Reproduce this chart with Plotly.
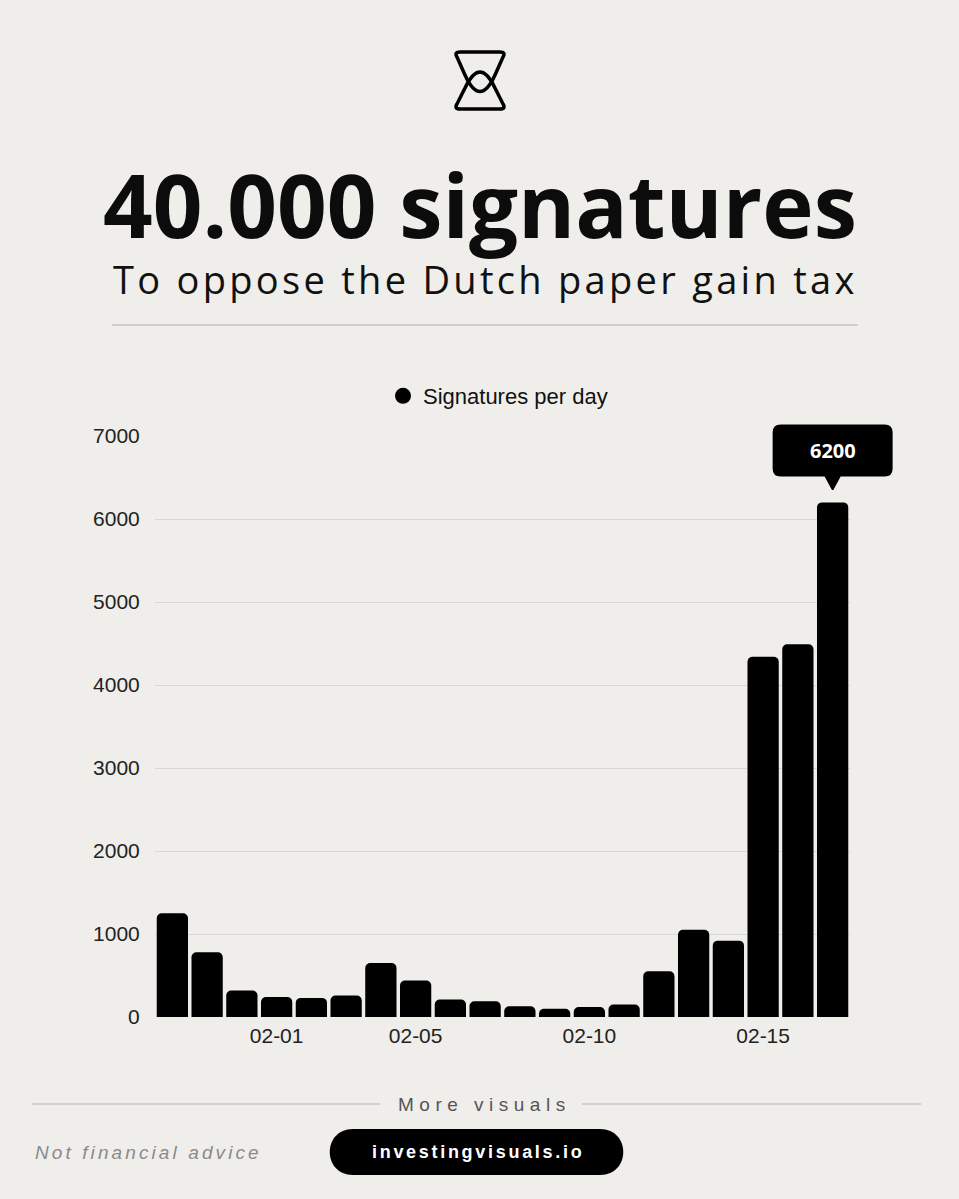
import re
import plotly.graph_objects as go

W, H = 959, 1199

# ---- data ----
dates = ["01-29", "01-30", "01-31", "02-01", "02-02", "02-03", "02-04", "02-05",
         "02-06", "02-07", "02-08", "02-09", "02-10", "02-11", "02-12", "02-13",
         "02-14", "02-15", "02-16", "02-17"]
signatures = [1250, 780, 320, 240, 230, 260, 650, 440, 210, 190,
              130, 100, 120, 150, 550, 1050, 920, 4340, 4490, 6200]
x_tick_labels = ["02-01", "02-05", "02-10", "02-15"]
y_tick_values = [0, 1000, 2000, 3000, 4000, 5000, 6000, 7000]
series_name = "Signatures per day"
title_text = "40.000 signatures"
subtitle_text = "To oppose the Dutch paper gain tax"

BG = "#efeeea"
TICK_FONT = "Liberation Sans, Arial, sans-serif"
Y_MAX = 7000


def pxx(x):
    return x / W


def pxy(y):
    return 1 - y / H


def to_paper_path(s):
    def rep(m):
        x = float(m.group(1))
        y = float(m.group(2))
        return f"{x / W:.5f},{1 - y / H:.5f}"
    return re.sub(r"(-?\d+\.?\d*),(-?\d+\.?\d*)", rep, s)


fig = go.Figure()

fig.add_trace(go.Bar(
    x=dates, y=signatures, marker=dict(color="#000000", cornerradius=5, line=dict(width=0)),
    showlegend=False, hoverinfo="skip",
))
# legend entry with round symbol
fig.add_trace(go.Scatter(
    x=[None], y=[None], mode="markers", name=series_name,
    marker=dict(size=20, color="#000000", symbol="circle"),
))

peak_i = max(range(len(signatures)), key=lambda i: signatures[i])

shapes = []
# logo (hourglass)
logo_top = "M 460,52 L 500,52 Q 506,52 503,57 L 495,75 Q 480,108 465,75 L 457,57 Q 454,52 460,52 Z"
logo_bot = "M 460,109 L 500,109 Q 506,109 503,104 L 495,88 Q 480,56 465,88 L 457,104 Q 454,109 460,109 Z"
for p in (logo_top, logo_bot):
    shapes.append(dict(type="path", xref="paper", yref="paper", path=to_paper_path(p),
                       line=dict(color="#000000", width=3.5), fillcolor="rgba(0,0,0,0)"))
# rule under subtitle
shapes.append(dict(type="line", xref="paper", yref="paper", x0=pxx(112), x1=pxx(858),
                   y0=pxy(325), y1=pxy(325), line=dict(color="#c4c4c2", width=1.5)))
# footer rules
for a, b in ((32, 380), (582, 921)):
    shapes.append(dict(type="line", xref="paper", yref="paper", x0=pxx(a), x1=pxx(b),
                       y0=pxy(1104), y1=pxy(1104), line=dict(color="#c4c4c2", width=1.5)))
# pill
pill = ("M 353,1129 L 600,1129 C 631,1129 631,1175 600,1175 L 353,1175 "
        "C 322,1175 322,1129 353,1129 Z")
shapes.append(dict(type="path", xref="paper", yref="paper", path=to_paper_path(pill),
                   fillcolor="#000000", line=dict(width=0)))
# tooltip bubble anchored to the peak bar (pixel offsets, y up); domain refs avoid clipping
bubble = ("M -52,78 L 52,78 Q 60,78 60,70 L 60,34 Q 60,26 52,26 L 8,26 L 1,13 "
          "Q 0,12 -1,13 L -8,26 L -52,26 Q -60,26 -60,34 L -60,70 Q -60,78 -52,78 Z")
shapes.append(dict(type="path", xref="x domain", yref="y domain",
                   xsizemode="pixel", ysizemode="pixel",
                   xanchor=(peak_i + 0.5) / len(dates), yanchor=signatures[peak_i] / Y_MAX,
                   path=bubble, fillcolor="#000000", line=dict(width=0)))


def spaced(text, ls):
    return f'<span style="letter-spacing:{ls}px">{text}</span>'


annotations = [
    dict(text=f"<b>{title_text}</b>", x=pxx(480), y=pxy(204), xref="paper", yref="paper",
         showarrow=False, xanchor="center", yanchor="middle",
         font=dict(family="Open Sans", size=87, color="#0c0c0c")),
    dict(text=spaced(subtitle_text, 3.3), x=pxx(485), y=pxy(279), xref="paper", yref="paper",
         showarrow=False, xanchor="center", yanchor="middle",
         font=dict(family="Open Sans", size=38, color="#111111")),
    dict(text=f"<b>{signatures[peak_i]}</b>", x=dates[peak_i], y=signatures[peak_i],
         xref="x", yref="y", yshift=52, showarrow=False, xanchor="center", yanchor="middle",
         font=dict(family="Open Sans", size=20, color="#ffffff")),
    dict(text=spaced("More visuals", 5.5), x=pxx(484), y=pxy(1104), xref="paper", yref="paper",
         showarrow=False, xanchor="center", yanchor="middle",
         font=dict(family=TICK_FONT, size=19, color="#555555")),
    dict(text=spaced("<i>Not financial advice</i>", 3.1), x=pxx(33), y=pxy(1152),
         xref="paper", yref="paper", showarrow=False, xanchor="left", yanchor="middle",
         font=dict(family=TICK_FONT, size=19, color="#8a8a8a")),
    dict(text=spaced("<b>investingvisuals.io</b>", 2.7), x=pxx(478), y=pxy(1152), xref="paper",
         yref="paper", showarrow=False, xanchor="center", yanchor="middle",
         font=dict(family=TICK_FONT, size=18, color="#ffffff")),
]

fig.update_layout(
    autosize=True,
    margin=dict(l=0, r=0, t=0, b=0, pad=0, autoexpand=False),
    paper_bgcolor=BG, plot_bgcolor="rgba(0,0,0,0)",
    bargap=0.1,
    shapes=shapes,
    annotations=annotations,
    legend=dict(orientation="h", x=pxx(498), xanchor="center", y=pxy(396), yanchor="middle",
                font=dict(family=TICK_FONT, size=22, color="#111111"),
                bgcolor="rgba(0,0,0,0)", itemsizing="trace"),
    xaxis=dict(domain=[pxx(155), pxx(850)], type="category", range=[-0.5, len(dates) - 0.5],
               tickvals=x_tick_labels, ticktext=x_tick_labels, showgrid=False, zeroline=False,
               showline=False, ticks="outside", ticklen=0, tickcolor="rgba(0,0,0,0)",
               tickfont=dict(family=TICK_FONT, size=21, color="#222222"), automargin=False),
    yaxis=dict(domain=[pxy(1017), pxy(436)], range=[0, Y_MAX], tickvals=y_tick_values,
               showgrid=True, gridcolor="rgba(0,0,0,0.09)", gridwidth=1, zeroline=False,
               showline=False, ticks="outside", ticklen=10, tickcolor="rgba(0,0,0,0)",
               tickfont=dict(family=TICK_FONT, size=21, color="#222222"), automargin=False),
    font=dict(family=TICK_FONT),
)

# the page's body margin would push the figure down; pin the div to the window's top-left
fig.write_html(
    "out.html",
    config={"displayModeBar": False},
    default_width=f"{W}px",
    default_height=f"{H}px; position:fixed; top:0px; left:0px",
)
